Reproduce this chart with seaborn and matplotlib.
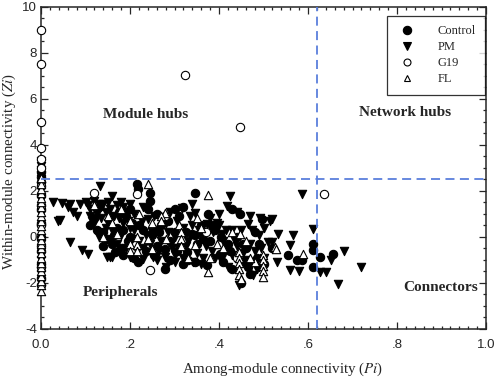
import pandas as pd
import seaborn as sns
import matplotlib.pyplot as plt
from matplotlib.lines import Line2D
from matplotlib.ticker import MultipleLocator, FuncFormatter

# valores (Pi, Zi) por grupo
control_pi = [0, 0, 0, 0, 0, 0, 0, 0, 0, 0,
              0.215, 0.218, 0.245, 0.245, 0.346, 0.429, 0.447, 0.375, 0.346, 0.373,
              0.402, 0.454, 0.474, 0.497, 0.555, 0.575, 0.587, 0.611, 0.611, 0.627,
              0.611, 0.656, 0.279, 0.279, 0.328, 0.184, 0.166, 0.339, 0.14, 0.15,
              0.16, 0.17, 0.18, 0.19, 0.2, 0.175, 0.2, 0.21, 0.22, 0.23,
              0.25, 0.26, 0.27, 0.29, 0.3, 0.31, 0.32, 0.33, 0.35, 0.36,
              0.38, 0.39, 0.41, 0.42, 0.43, 0.44, 0.46, 0.47, 0.48, 0.49,
              0.45, 0.12, 0.13, 0.11, 0.29, 0.24, 0.5, 0.52, 0.3, 0.14,
              0.26, 0.133, 0.218, 0.32,
              0.125, 0.155, 0.165, 0.185, 0.195, 0.205, 0.235, 0.255, 0.265, 0.285,
              0.305, 0.325, 0.345, 0.365, 0.385, 0.405, 0.425, 0.455, 0.465, 0.485]
control_zi = [2.8, 2.6, 2.4, 1.8, 1.2, 0.6, 0.0, -0.6, -1.2, -1.8,
              2.3, 2.08, 1.9, 1.55, 1.9, 1.2, 0.98, 0.98, 0.1, -1.22,
              -0.74, -1.09, -1.09, 0.76, -0.78, -1.0, -1.0, -0.3, -0.56, -0.87,
              -1.31, -0.74, -0.52, -1.4, -0.65, -0.78, -0.65, 0.14, 0.2, -0.1,
              -0.3, 0.4, -0.5, 0.9, 1.2, 1.1, 0.0, -0.9, 0.5, 0.3,
              0.1, -0.4, 0.5, -0.2, 0.2, 0.9, 1.3, -1.0, -0.3, 0.5,
              -0.2, 0.3, -1.1, -0.3, -1.4, 0.0, -0.5, -1.6, 0.2, -0.3,
              -2.0, 0.8, 1.3, 0.5, -1.0, 1.2, -1.2, -0.5, 1.2, -0.4,
              1.0, 0.23, -1.09, -1.2,
              0.3, 0.9, 0.1, 0.3, -0.2, 0.6, -0.6, -0.8, 0.2, 0.7,
              -0.6, 0.2, -1.1, -0.1, 0.5, 0.0, -0.6, -0.3, -1.3, -0.9]

pm_pi = [0, 0, 0, 0, 0, 0, 0, 0, 0, 0, 0, 0, 0,
         0.027, 0.047, 0.061, 0.065, 0.072, 0.081, 0.088, 0.038, 0.043, 0.065,
         0.092, 0.106, 0.133, 0.148, 0.1, 0.11, 0.12, 0.125, 0.135, 0.14,
         0.15, 0.155, 0.16, 0.165, 0.17, 0.18, 0.185, 0.19, 0.2, 0.21,
         0.16, 0.2, 0.229, 0.155, 0.13, 0.145, 0.17, 0.19, 0.22, 0.24,
         0.227, 0.252, 0.279, 0.301, 0.317, 0.339, 0.346, 0.373, 0.387, 0.407,
         0.413, 0.429, 0.418, 0.425, 0.342, 0.445, 0.465, 0.47, 0.476, 0.492,
         0.515, 0.51, 0.519, 0.533, 0.566, 0.611, 0.56, 0.53, 0.627, 0.64,
         0.56, 0.58, 0.652, 0.681, 0.667, 0.72, 0.587, 0.519,
         0.26, 0.27, 0.28, 0.29, 0.3, 0.31, 0.32, 0.33, 0.35, 0.36,
         0.37, 0.38, 0.39, 0.4, 0.41, 0.43, 0.44, 0.45, 0.46, 0.48,
         0.49, 0.5, 0.23, 0.25, 0.26, 0.28, 0.3, 0.32, 0.34, 0.36,
         0.4, 0.42, 0.44, 0.47, 0.49, 0.2, 0.18, 0.16, 0.12, 0.11,
         0.21, 0.23, 0.5, 0.48,
         0.105, 0.115, 0.13, 0.145, 0.15, 0.175, 0.185, 0.195, 0.205, 0.215,
         0.235, 0.245, 0.255, 0.265, 0.285, 0.295, 0.305, 0.325, 0.335, 0.355,
         0.365, 0.385, 0.395, 0.405, 0.415, 0.435, 0.455, 0.475, 0.485, 0.495]
pm_zi = [3.3, 3.1, 2.9, 2.7, 2.5, 2.2, 1.6, 1.0, 0.4, -0.3, -1.0, -1.6, -2.0,
         1.5, 1.46, 1.3, 1.42, 1.1, 0.9, 1.42, 0.67, 0.75, -0.21,
         -0.56, -0.74, 2.21, -0.87, 1.5, 1.2, 1.55, 1.0, 0.8, 1.45,
         1.5, 1.2, 1.77, 0.9, 1.4, 1.5, 0.6, 1.1, 1.45, 0.3,
         -0.87, -0.87, -0.96, -0.87, 0.0, 0.4, -0.3, -0.5, -0.2, 0.76,
         0.67, -0.87, -0.87, -0.78, 1.24, 1.42, 1.02, 0.54, 0.23, 0.14,
         -0.65, 0.32, 1.33, 1.77, -1.09, -2.1, 0.58, -0.3, -1.67, 0.8,
         0.67, -0.21, 0.76, 0.14, 0.1, 0.36, -0.34, -1.09, -1.53, -1.53,
         -1.44, -1.49, -1.0, -0.61, -2.06, -1.3, 1.86, -0.21,
         0.3, -0.2, 0.6, 1.1, 0.0, -0.5, 0.4, -0.2, -0.7, 0.1,
         -0.4, 0.8, -0.9, 0.5, -0.2, -0.8, -0.4, 0.3, -1.0, -0.6,
         0.1, -0.9, 1.3, 0.2, -1.0, -1.3, -1.1, -0.9, 0.5, -1.2,
         1.0, -1.3, 1.1, 0.9, -1.3, 0.4, 0.1, 0.3, 0.6, 0.9,
         1.0, -0.5, 0.4, -1.1,
         1.4, 0.7, 1.45, 1.1, 0.6, 0.8, 1.3, 0.7, -0.1, -0.6,
         0.1, -0.3, 0.9, -0.6, 0.2, -0.5, 0.7, -0.4, 0.9, 0.3,
         -0.9, -0.6, 0.6, -1.0, 0.3, -0.2, -0.7, 0.3, -1.4, -0.5]

g19_pi = [0, 0, 0, 0, 0, 0, 0, 0, 0, 0, 0, 0,
          0.12, 0.215, 0.245, 0.279, 0.324, 0.447, 0.636, 0.37, 0.44]
g19_zi = [9.0, 7.5, 5.0, 3.85, 3.4, 3.0, 2.2, 1.4, 0.5, -0.4, -1.3, -2.1,
          1.9, 1.85, -1.45, 0.9, 7.06, 4.77, 1.86, 0.2, -0.9]

fl_pi = [0, 0, 0, 0, 0, 0, 0, 0, 0, 0, 0, 0, 0, 0, 0, 0, 0, 0, 0, 0, 0, 0, 0, 0, 0,
         0.24, 0.375, 0.279, 0.171, 0.2, 0.215, 0.249, 0.346, 0.375, 0.396,
         0.447, 0.445, 0.445, 0.445, 0.445, 0.445, 0.449, 0.481, 0.499, 0.499,
         0.499, 0.499, 0.499, 0.526, 0.528, 0.589, 0.12, 0.15, 0.16, 0.14,
         0.18, 0.2, 0.22, 0.25, 0.27, 0.28, 0.31, 0.315, 0.315, 0.315,
         0.33, 0.36, 0.38, 0.41, 0.43, 0.46, 0.47, 0.24, 0.2, 0.27,
         0.35, 0.215, 0.215]
fl_zi = [-2.35, -2.1, -1.9, -1.7, -1.5, -1.3, -1.12, -0.92, -0.7, -0.5, -0.3, -0.12,
         0.1, 0.3, 0.48, 0.7, 0.9, 1.1, 1.3, 1.5, 1.7, 1.9, 2.1, 2.3, 2.55,
         2.3, 1.81, 1.02, 0.14, -0.3, -0.34, -0.52, -0.34, -1.53, -0.3,
         0.12, -0.65, -0.9, -1.15, -1.4, -1.65, -1.85, -1.09, -0.78, -1.0,
         -1.25, -1.5, -1.75, -0.43, -0.52, -0.74, 1.4, 0.9, 0.6, 0.0,
         1.2, 0.7, 1.0, 0.6, 0.9, -0.1, 0.5, 0.2, -0.1, -0.4,
         -0.9, 0.4, -0.9, -0.5, 0.2, -0.2, -0.9, -0.1, -0.6, 0.7,
         0.8, 0.0, -0.6]

groups = ["Control", "PM", "G19", "FL"]
datos = {"Control": (control_pi, control_zi), "PM": (pm_pi, pm_zi),
         "G19": (g19_pi, g19_zi), "FL": (fl_pi, fl_zi)}
estilo = {"Control": ("o", "black"), "PM": ("v", "black"),
          "G19": ("o", "white"), "FL": ("^", "white")}

sns.set_style("ticks")
plt.rcParams["font.family"] = ["Liberation Serif", "DejaVu Serif"]
plt.rcParams["mathtext.fontset"] = "stix"
plt.rcParams["axes.unicode_minus"] = False

fig = plt.figure(figsize=(5, 3.82), dpi=100)
ax = fig.add_axes([0.082, 0.139, 0.89, 0.843])

for g in groups:
    df = pd.DataFrame({"Pi": datos[g][0], "Zi": datos[g][1]})
    m, fc = estilo[g]
    sns.scatterplot(data=df, x="Pi", y="Zi", marker=m, color=fc, edgecolor="black",
                    linewidth=0.8, s=36, ax=ax, zorder=3, clip_on=False)

ax.axhline(2.5, color="#5a7fdc", ls=(0, (5, 3)), lw=1.3, zorder=4)
ax.axvline(0.62, color="#5a7fdc", ls=(0, (5, 3)), lw=1.3, zorder=4)

ax.set_xlim(0, 1.0)
ax.set_ylim(-4, 10)
ax.xaxis.set_major_locator(MultipleLocator(0.2))
ax.xaxis.set_minor_locator(MultipleLocator(0.02))
ax.yaxis.set_major_locator(MultipleLocator(2))
ax.yaxis.set_minor_locator(MultipleLocator(0.5))

def fmt_x(v, pos):
    if abs(v) < 1e-9:
        return "0.0"
    if abs(v - 1) < 1e-9:
        return "1.0"
    return ("%.1f" % v)[1:]

ax.xaxis.set_major_formatter(FuncFormatter(fmt_x))
ax.tick_params(which="both", direction="in", top=True, right=True, width=0.9)
ax.tick_params(which="major", length=5, labelsize=9.5)
ax.tick_params(axis="x", which="major", pad=7)
ax.tick_params(axis="y", which="major", pad=3)
ax.tick_params(which="minor", length=2.5)
for lab in ax.get_xticklabels() + ax.get_yticklabels():
    lab.set_family(["Liberation Sans", "DejaVu Sans"])
for sp in ax.spines.values():
    sp.set_linewidth(1.1)

ax.set_xlabel("Among-module connectivity ($\\mathit{Pi}$)", fontsize=10.8)
ax.set_ylabel("Within-module connectivity ($\\mathit{Zi}$)", fontsize=10.8)
ax.xaxis.set_label_coords(0.542, -0.1)
ax.yaxis.set_label_coords(-0.052, 0.49)

ax.text(0.234, 5.3, "Module hubs", fontsize=11, fontweight="bold", ha="center", va="center")
ax.text(0.818, 5.4, "Network hubs", fontsize=11, fontweight="bold", ha="center", va="center")
ax.text(0.178, -2.4, "Peripherals", fontsize=11, fontweight="bold", ha="center", va="center")
ax.text(0.897, -2.2, "Connectors", fontsize=11, fontweight="bold", ha="center", va="center")

handles = [Line2D([], [], ls="none", marker=estilo[g][0], markerfacecolor=estilo[g][1],
                  markeredgecolor="black", markersize=6 if estilo[g][1] == "black" else 5,
                  markeredgewidth=0.8) for g in groups]
leg = ax.legend(handles, groups, loc="upper right", frameon=True, fancybox=False,
                edgecolor="black", fontsize=9, handletextpad=1.5, labelspacing=0.32,
                borderpad=0.75, handlelength=1.8, borderaxespad=0,
                bbox_to_anchor=(0.998, 0.972))
leg.get_frame().set_linewidth(0.9)
leg.set_zorder(5)

plt.savefig("out.png", dpi=100)
